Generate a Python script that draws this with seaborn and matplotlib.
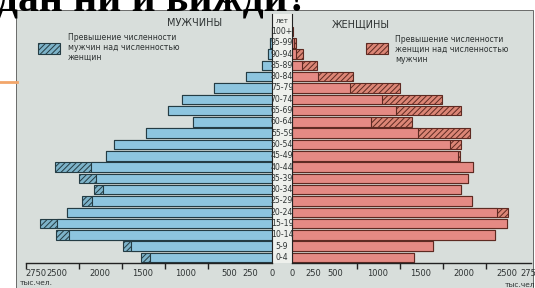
import matplotlib
matplotlib.use("Agg")
from matplotlib import pyplot as plt
from matplotlib.patches import Rectangle
from matplotlib.lines import Line2D
import matplotlib.transforms as mtransforms
import seaborn as sns
import numpy as np

# age groups, bottom to top
ages = ["0-4", "5-9", "10-14", "15-19", "20-24", "25-29", "30-34", "35-39",
        "40-44", "45-49", "50-54", "55-59", "60-64", "65-69", "70-74",
        "75-79", "80-84", "85-89", "90-94", "95-99", "100+"]
# population, thousands
men = [1520, 1730, 2510, 2700, 2380, 2210, 2070, 2245, 2520, 1930, 1840,
       1465, 920, 1215, 1050, 675, 300, 115, 45, 20, 0]
women = [1420, 1635, 2360, 2500, 2515, 2090, 1965, 2050, 2105, 1955, 1965,
         2070, 1395, 1965, 1745, 1255, 710, 290, 130, 45, 10]

left_ticks = [0, 250, 500, 1000, 1500, 2000, 2500, 2750]
right_ticks = [0, 250, 500, 1000, 1500, 2000, 2500, 2750]
left_labels = ["0", "250", "500", "1000", "1500", "2000", "2500", "2750"]
right_labels = ["0", "250", "500", "1000", "1500", "2000", "2500", "275"]

BLUE = "#8dc5df"
BLUE_H = "#7db3c9"
BLUE_EDGE = "#243c44"
PINK = "#e58a84"
PINK_H = "#dc8676"
PINK_EDGE = "#5e2a22"
PANEL = "#d8dedb"
TXT = "#2e3333"

W, H = 535, 288
def fx(px): return px / W
def fy(px): return 1 - px / H

plt.rcParams["hatch.linewidth"] = 0.7

fig = plt.figure(figsize=(5.35, 2.88), dpi=100)
fig.patch.set_facecolor("white")

# orange rule from the page, then the grey panel
fig.add_artist(Line2D([fx(0), fx(17)], [fy(82), fy(82)], color="#f2a66a", lw=2))
fig.add_artist(Rectangle((fx(16), 0), fx(533) - fx(16), fy(10), facecolor=PANEL,
                         edgecolor="#555", lw=0.6, zorder=0))
fig.add_artist(Rectangle((fx(272), fy(263)), fx(292) - fx(272), fy(14) - fy(263),
                         facecolor="#eef0ec", edgecolor="none", zorder=0))

fig.text(fx(-3), fy(10), "дан ни и вижди?", fontsize=30, fontweight="bold",
         family="Liberation Serif", va="baseline", ha="left", color="black")

order = ages[::-1]
common = np.minimum(men, women)
scale = 0.086  # px per thousand

axL = fig.add_axes([fx(26), fy(263), fx(272) - fx(26), fy(14) - fy(263)])
axR = fig.add_axes([fx(292), fy(263), fx(531) - fx(292), fy(14) - fy(263)])

sns.barplot(x=men, y=ages, order=order, ax=axL, color=BLUE_H, saturation=1,
            hatch="//////", edgecolor=BLUE_EDGE, linewidth=0.8, width=0.84)
sns.barplot(x=common, y=ages, order=order, ax=axL, color=BLUE, saturation=1,
            edgecolor=BLUE_EDGE, linewidth=0.8, width=0.84)
sns.barplot(x=women, y=ages, order=order, ax=axR, color=PINK_H, saturation=1,
            hatch="//////", edgecolor=PINK_EDGE, linewidth=0.8, width=0.84)
sns.barplot(x=common, y=ages, order=order, ax=axR, color=PINK, saturation=1,
            edgecolor=PINK_EDGE, linewidth=0.8, width=0.84)

axL.set_xlim((272 - 26) / scale, 0)
axR.set_xlim(0, (531 - 292) / scale)
for ax in (axL, axR):
    ax.set_ylim(20.49, -1.55)
    ax.set_facecolor("none")
    ax.set_xlabel("")
    ax.set_ylabel("")
    ax.tick_params(axis="y", left=False, labelleft=False)
    ax.spines["top"].set_visible(False)
    ax.spines["bottom"].set_color("#222")
    ax.spines["bottom"].set_linewidth(1.0)
    ax.tick_params(axis="x", which="major", length=0, pad=4, labelsize=6,
                   labelcolor=TXT)
    ax.tick_params(axis="x", which="minor", length=4, width=1, color="#222")
axL.spines["left"].set_visible(False)
axL.spines["right"].set_color("#222")
axR.spines["right"].set_visible(False)
axR.spines["left"].set_color("#222")
axL.set_xticks(left_ticks, left_labels)
axR.set_xticks(right_ticks, right_labels)
axL.set_xticks([250, 750, 1250, 1750, 2250, 2860], minor=True)
axR.set_xticks([750, 1250, 1750, 2250, 2750], minor=True)

# age labels in the centre column
tr = mtransforms.blended_transform_factory(fig.transFigure, axL.transData)
narrow = ["Liberation Sans Narrow", "DejaVu Sans"]
for j, a in enumerate(order):
    fig.text(fx(282), j, a, transform=tr, ha="center", va="center",
             fontsize=5.6, family=narrow, color=TXT)
fig.text(fx(282), -0.9, "лет", transform=tr, ha="center", va="center",
         fontsize=5, family=narrow, color=TXT)

# titles and legends
fig.text(fx(195), fy(23), "МУЖЧИНЫ", ha="center", va="center", fontsize=7, color=TXT)
fig.text(fx(361), fy(24), "ЖЕНЩИНЫ", ha="center", va="center", fontsize=7, color=TXT)
fig.add_artist(Rectangle((fx(38), fy(54)), fx(22), fy(43) - fy(54), facecolor=BLUE_H,
                         edgecolor=BLUE_EDGE, hatch="//////", lw=0.8))
fig.add_artist(Rectangle((fx(366), fy(54)), fx(22), fy(43) - fy(54), facecolor=PINK_H,
                         edgecolor=PINK_EDGE, hatch="//////", lw=0.8))
fig.text(fx(68), fy(33), "Превышение численности\nмужчин над численностью\nженщин",
         ha="left", va="top", fontsize=5.6, color=TXT, linespacing=1.15)
fig.text(fx(395), fy(35), "Превышение численности\nженщин над численностью\nмужчин",
         ha="left", va="top", fontsize=5.6, color=TXT, linespacing=1.15)

fig.text(fx(20), fy(283), "тыс.чел.", ha="left", va="center", fontsize=5.4, color=TXT)
fig.text(fx(505), fy(285), "тыс.чел.", ha="left", va="center", fontsize=5.4, color=TXT)

fig.savefig("out.png", dpi=100)
